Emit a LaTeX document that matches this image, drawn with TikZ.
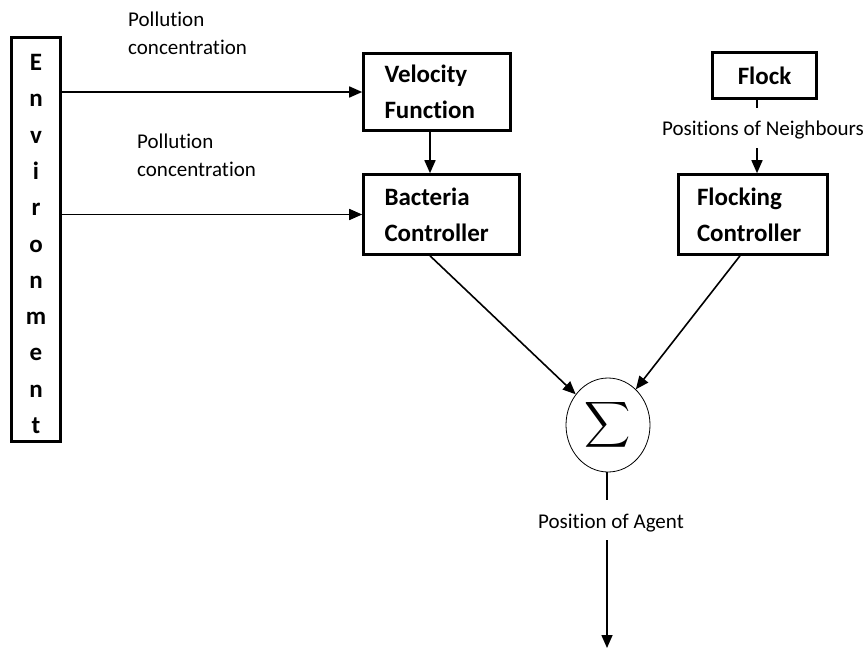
\documentclass[tikz,border=0pt]{standalone}
\usepackage{fontspec}
\setmainfont{Carlito}[Ligatures=NoCommon]
\usetikzlibrary{arrows.meta,shapes.geometric,calc}
\begin{document}
\begin{tikzpicture}[x=1pt,y=-1pt,
  blk/.style={draw,line width=2.6pt,inner ysep=0pt,align=left,font=\fontsize{25}{36}\selectfont\bfseries},
  lbl/.style={font=\fontsize{21}{28}\selectfont,inner sep=0pt,align=left},
  arr/.style={line width=1.6pt,-{Triangle[length=13pt,width=11pt]}},
  ln/.style={line width=1.6pt}]
\useasboundingbox (0,0) rectangle (867,653);
% blocks
\node[draw,line width=2.6pt,minimum width=49pt,minimum height=404pt,inner sep=0pt] (env) at (36,239.5) {};
\node[inner sep=0pt,align=center,font=\fontsize{25}{36.3}\selectfont\bfseries] (envtxt) at (36,244)
      {E\\n\\v\\i\\r\\o\\n\\m\\e\\n\\t};
\node[blk,minimum height=77pt,inner xsep=21pt,text width=105pt] (vel) at (437,92) {Velocity\\Function};
\node[blk,minimum height=80pt,inner xsep=21pt,text width=114pt] (bac) at (441.5,214.5) {Bacteria\\Controller};
\node[blk,minimum height=46pt,minimum width=104pt,align=center] (flock) at (764.5,75.5) {Flock};
\node[blk,minimum height=80pt,inner xsep=18.5pt,text width=112pt] (flk) at (753,214.5) {Flocking\\Controller};
\node[ellipse,draw,line width=0.8pt,minimum width=84pt,minimum height=94pt,inner sep=0pt] (sig) at (608,425)
      {\scalebox{3.2}{$\displaystyle\sum$}};
% labels
\node[lbl,anchor=west] (pc1) at (128,33) {Pollution\\concentration};
\node[lbl,anchor=west] (pc2) at (137,155) {Pollution\\concentration};
\node[lbl] (pn) at (763,130) {Positions of Neighbours};
\node[lbl] (pa) at (611,523) {Position of Agent};
% helper coordinates
\coordinate (fx) at (757,108);
\coordinate (fy) at (757,148);
\coordinate (sa) at (607,500);
\coordinate (sb) at (607,540);
\coordinate (out) at (607,648);
% connectors
\draw[arr] (env.east |- vel.west) -- (vel.west);
\draw[arr] (env.east |- bac.west) -- (bac.west);
\draw[arr] ([xshift=-7pt]vel.south) -- ([xshift=-7pt]vel.south |- bac.north);
\draw[ln] (flock.south -| fx) -- (fx);
\draw[arr] (fy) -- (fy |- flk.north);
\draw[arr] ([xshift=-11.5pt]bac.south) -- (sig);
\draw[arr] ([xshift=-13pt]flk.south) -- (sig);
\draw[ln] (sig.south -| sa) -- (sa);
\draw[arr] (sb) -- (out);
\end{tikzpicture}
\end{document}
